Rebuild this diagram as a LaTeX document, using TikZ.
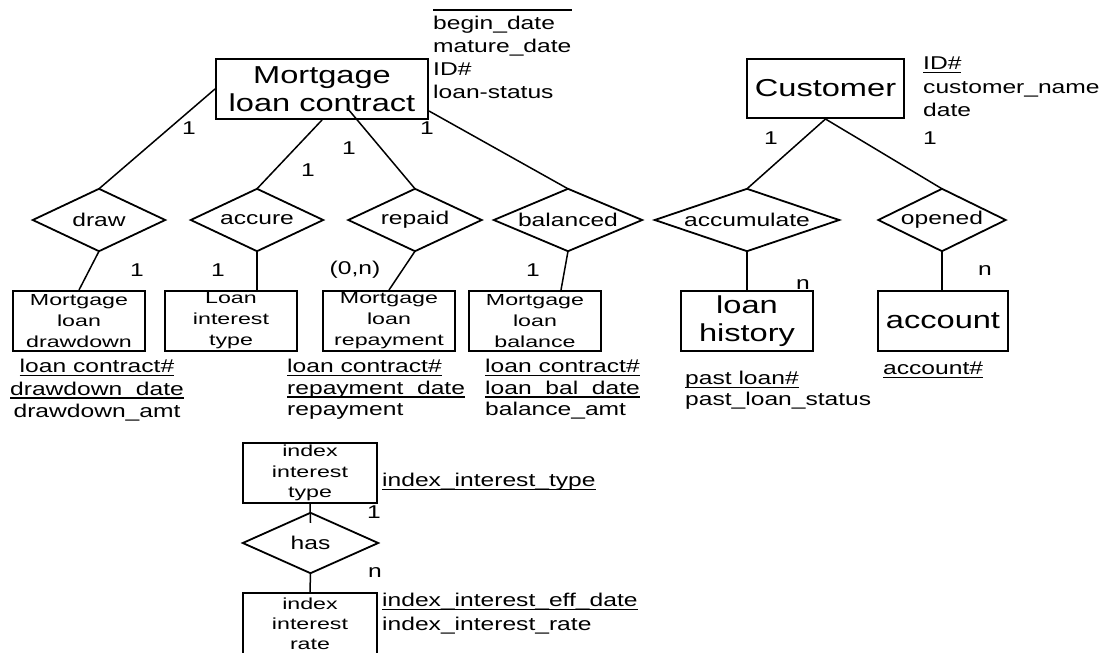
\documentclass[tikz,border=0pt]{standalone}
\usepackage{fontspec}
\setmainfont{Liberation Sans}[FakeStretch=1.33]
\newfontfamily\boxfont{Liberation Sans}[FakeStretch=1.45]
\usetikzlibrary{calc}

% key attribute: text with a heavy underline
\newcommand\keyattr[1]{\setbox0=\hbox{#1}\rlap{\rule[-3.5pt]{\wd0}{1.6pt}}\box0}

\tikzset{
  bigent/.style={draw, line width=2pt, inner sep=0pt, align=center,
    font=\fontsize{24.5}{28.5}\selectfont},
  smallent/.style={draw, line width=2pt, inner sep=0pt, align=center,
    minimum width=132pt, minimum height=60pt,
    font=\boxfont\fontsize{16}{21}\selectfont},
  rel/.style={inner sep=0pt, minimum height=62pt,
    font=\fontsize{18.5}{22}\selectfont},
  attr/.style={inner sep=0pt, align=left, anchor=north west},
  card/.style={inner sep=0pt, font=\fontsize{18.5}{22}\selectfont},
  link/.style={line width=1.5pt},
  relline/.style={line width=1.8pt, line join=miter},
}

\begin{document}
\begin{tikzpicture}[x=1pt, y=-1pt]
\useasboundingbox (0,0) rectangle (1109,653);
\clip (0,0) rectangle (1109,653);

% entities
\node[bigent, minimum width=212pt, minimum height=60pt] (contract) at (322,89) {Mortgage\\loan contract};
\node[bigent, minimum width=157pt, minimum height=59pt] (customer) at (825.5,88.5) {Customer};
\node[bigent, minimum width=132pt, minimum height=60pt] (history) at (747,321) {loan\\history};
\node[bigent, minimum width=130pt, minimum height=60pt] (account) at (943,321) {account};

\node[smallent] (drawdown)  at (79,321)  {Mortgage\\loan\\drawdown};
\node[smallent] (loantype)  at (231,321) {Loan\\interest\\type};
\node[smallent] (repayment) at (389,321) {Mortgage\\loan\\repayment};
\node[smallent] (balance)   at (535,321) {Mortgage\\loan\\balance};
\node[smallent, minimum width=134pt, font=\boxfont\fontsize{16}{20.5}\selectfont] (indextype) at (310,473) {index\\interest\\type};
\node[smallent, minimum width=134pt, minimum height=62pt, font=\boxfont\fontsize{16}{20}\selectfont] (indexrate) at (310,624) {index\\interest\\rate};

% relationships
\node[rel, minimum width=132pt] (r-draw)   at (99,220)  {draw};
\node[rel, minimum width=132pt] (r-accure) at (257,220) {accure};
\node[rel, minimum width=133pt] (r-repaid) at (415,220) {repaid};
\node[rel, minimum width=148pt] (r-bal)    at (568,220) {balanced};
\node[rel, minimum width=184pt] (r-accum)  at (747,220) {accumulate};
\node[rel, minimum width=127pt] (r-opened) at (942,220) {opened};
\node[rel, minimum width=135pt, minimum height=60pt] (r-has) at (310.5,543) {has};

\foreach \d in {r-draw,r-accure,r-repaid,r-bal,r-accum,r-opened,r-has}
  \draw[relline] (\d.north) -- (\d.east) -- (\d.south) -- (\d.west) -- cycle;

% connectors
\coordinate (repaidend) at ($(contract.south)+(26,-11)$);
\coordinate (balend) at ($(contract.south east)+(0,-9)$);
\coordinate (balfoot) at ($(balance.north)+(26,0)$);
\coordinate (hasend) at ($(r-has.north)+(0,10)$);

\draw[link] (r-draw.north) -- (contract.west);
\draw[link] (r-accure.north) -- (contract.south);
\draw[link] (r-repaid.north) -- (repaidend);
\draw[link] (r-bal.north) -- (balend);
\draw[link] (customer.south) -- (r-accum.north);
\draw[link] (customer.south) -- (r-opened.north);
\draw[link] (r-draw.south) -- (drawdown.north);
\draw[link] (r-accure.south) -- (r-accure.south |- loantype.north);
\draw[link] (r-repaid.south) -- (repayment.north);
\draw[link] (r-bal.south) -- (balfoot);
\draw[link] (r-accum.south) -- (history.north);
\draw[link] (r-opened.south) -- (r-opened.south |- account.north);
\draw[link] (indextype.south) -- (hasend);
\draw[link] (r-has.south) -- (indexrate.north);

% cardinalities
\node[card] (c1)  at (189,128) {1};
\node[card] (c2)  at (349,148) {1};
\node[card] (c3)  at (308,170) {1};
\node[card] (c4)  at (427,128) {1};
\node[card] (c5)  at (771,138) {1};
\node[card] (c6)  at (930,138) {1};
\node[card] (c7)  at (137,270) {1};
\node[card] (c8)  at (218,270) {1};
\node[card] (c9)  at (355,270) {(0,n)};
\node[card] (c10) at (533,270) {1};
\node[card] (c11) at (803,285) {n};
\node[card] (c12) at (985,271) {n};
\node[card] (c13) at (374,512) {1};
\node[card] (c14) at (375,573) {n};

% attributes
\draw[line width=1.6pt] (433,10) -- (572,10);
\node[attr, font=\fontsize{18.5}{23}\selectfont] (contractattr) at (433,16) {begin\_date\\mature\_date\\ID\#\\loan-status};
\node[attr, font=\fontsize{18.5}{23.5}\selectfont] (customerattr) at (923,57) {\keyattr{ID\#}\\customer\_name\\date};
\node[attr, anchor=north, align=center, font=\fontsize{18.5}{22.5}\selectfont] (drawdownattr) at (97,359) {\keyattr{loan contract\#}\\\keyattr{drawdown\_date}\\drawdown\_amt};
\node[attr, font=\fontsize{18.5}{21.5}\selectfont] (repaymentattr) at (287,359) {\keyattr{loan contract\#}\\\keyattr{repayment\_date}\\repayment};
\node[attr, font=\fontsize{18.5}{21.5}\selectfont] (balanceattr) at (485,359) {\keyattr{loan contract\#}\\\keyattr{loan\_bal\_date}\\balance\_amt};
\node[attr, font=\fontsize{18.5}{21}\selectfont] (historyattr) at (685,371) {\keyattr{past loan\#}\\past\_loan\_status};
\node[attr, font=\fontsize{18.5}{21}\selectfont] (accountattr) at (883,362) {\keyattr{account\#}};
\node[attr, font=\fontsize{18.5}{21}\selectfont] (indextypeattr) at (382,473) {\keyattr{index\_interest\_type}};
\node[attr, font=\fontsize{18.5}{24}\selectfont] (indexrateattr) at (382,593) {\keyattr{index\_interest\_eff\_date}\\index\_interest\_rate};
\end{tikzpicture}
\end{document}
